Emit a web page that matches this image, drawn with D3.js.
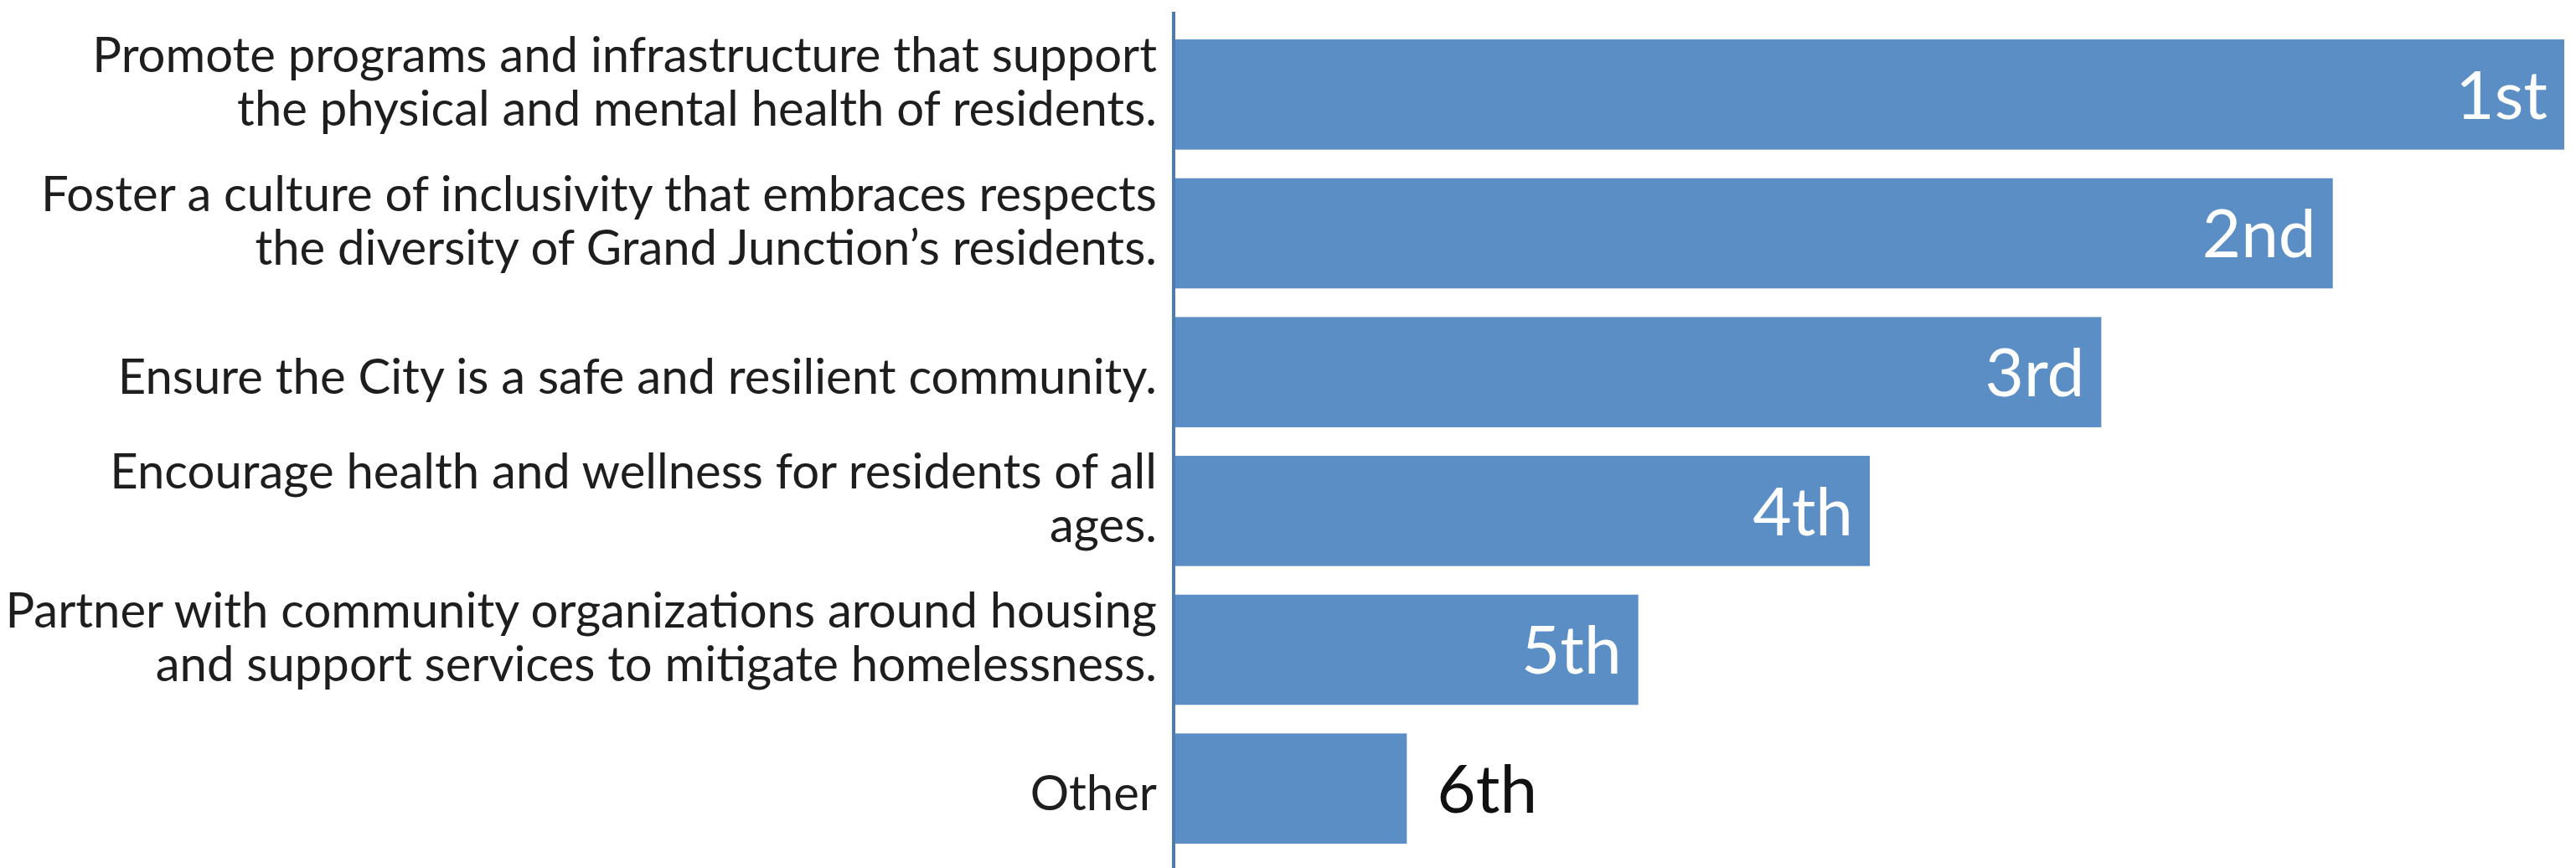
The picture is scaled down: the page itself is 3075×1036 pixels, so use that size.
<!DOCTYPE html>
<html>
<head>
<meta charset="utf-8">
<script src="https://cdn.jsdelivr.net/npm/d3@7"></script>
<style>
  html, body { margin: 0; padding: 0; background: #ffffff; }
  svg { display: block; }
</style>
</head>
<body>
<svg id="chart" width="3075" height="1036"></svg>
<script>
// Priorities, each split into the lines it is printed on
const categories = [
  ["Promote programs and infrastructure that support", "the physical and mental health of residents."],
  ["Foster a culture of inclusivity that embraces respects", "the diversity of Grand Junction\u2019s residents."],
  ["Ensure the City is a safe and resilient community."],
  ["Encourage health and wellness for residents of all", "ages."],
  ["Partner with community organizations around housing", "and support services to mitigate homelessness."],
  ["Other"]
];
// Ranking score (6 = ranked first)
const scores = [6, 5, 4, 3, 2, 1];
const rankLabels = ["1st", "2nd", "3rd", "4th", "5th", "6th"];

const width = 3075, height = 1036;
const axisX = 1401;
const barColor = "#5a8ec5";
const axisColor = "#4c7cb0";
const fontFamily = "Lato, 'Source Sans Pro', 'Open Sans', sans-serif";

const svg = d3.select("#chart");
svg.append("rect").attr("width", width).attr("height", height).attr("fill", "#ffffff");

const x = d3.scaleLinear().domain([0, 6]).range([axisX + 2, 3061]);
const y = d3.scaleBand()
  .domain(d3.range(categories.length))
  .range([30, 1024])
  .paddingInner(0.206)
  .paddingOuter(0.103);

// Bars
svg.append("g").selectAll("rect")
  .data(scores)
  .join("rect")
  .attr("x", x(0))
  .attr("y", (d, i) => y(i))
  .attr("width", d => x(d) - x(0))
  .attr("height", y.bandwidth())
  .attr("fill", barColor);

// Vertical category axis line
svg.append("line")
  .attr("x1", axisX).attr("x2", axisX)
  .attr("y1", 14).attr("y2", height)
  .attr("stroke", axisColor)
  .attr("stroke-width", 4);

// Category labels, sized so the longest line fits the label column
const probe = svg.append("text")
  .attr("font-family", fontFamily)
  .attr("font-size", 100)
  .text(categories[0][0]);
const probeW = probe.node().getComputedTextLength();
probe.remove();
const labelSize = 100 * 1271 / probeW;
const lineGap = 64;

const labels = svg.append("g")
  .attr("font-family", fontFamily)
  .attr("font-size", labelSize)
  .attr("fill", "#1e1e1e")
  .attr("text-anchor", "end");

categories.forEach((lines, i) => {
  const cy = y(i) + y.bandwidth() / 2;
  const n = lines.length;
  lines.forEach((line, k) => {
    labels.append("text")
      .attr("x", axisX - 20)
      .attr("y", cy + 26 - (n - 1) * 21 + (k - (n - 1) / 2) * lineGap)
      .text(line);
  });
});

// Rank labels: inside the bar when it is long enough, otherwise just past its end
const rankSize = 80;
svg.append("g")
  .attr("font-family", fontFamily)
  .attr("font-size", rankSize)
  .selectAll("text")
  .data(scores)
  .join("text")
  .each(function (d, i) {
    const inside = x(d) - x(0) > 300;
    d3.select(this)
      .attr("x", inside ? x(d) - 20 : x(d) + 36)
      .attr("y", y(i) + y.bandwidth() / 2 + rankSize * 0.36)
      .attr("text-anchor", inside ? "end" : "start")
      .attr("fill", inside ? "#ffffff" : "#111111")
      .text(rankLabels[i]);
  });
</script>
</body>
</html>
